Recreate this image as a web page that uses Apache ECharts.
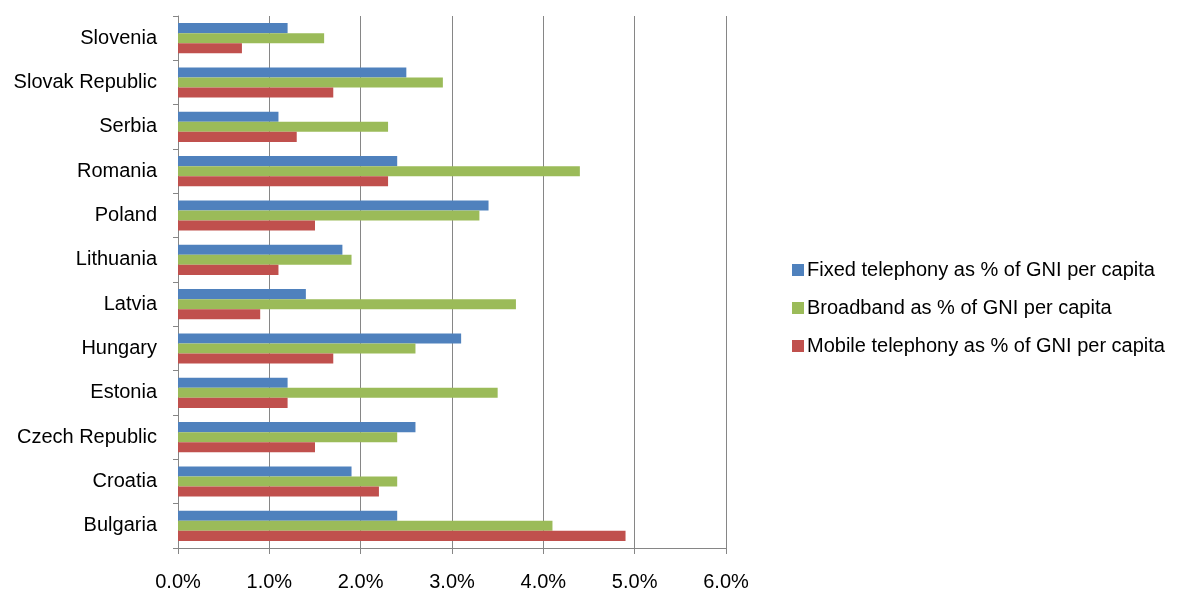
<!DOCTYPE html>
<html>
<head>
<meta charset="utf-8">
<script src="https://cdn.jsdelivr.net/npm/echarts@6/dist/echarts.min.js"></script>
<style>
  html, body { margin: 0; padding: 0; background: #ffffff; }
  #chart { width: 1179px; height: 592px; }
</style>
</head>
<body>
<div id="chart"></div>
<script>
// Countries, listed from the bottom of the axis to the top
const countries = ['Bulgaria', 'Croatia', 'Czech Republic', 'Estonia', 'Hungary', 'Latvia',
  'Lithuania', 'Poland', 'Romania', 'Serbia', 'Slovak Republic', 'Slovenia'];

// Cost of each service as % of GNI per capita
const fixedTelephony = [2.4, 1.9, 2.6, 1.2, 3.1, 1.4, 1.8, 3.4, 2.4, 1.1, 2.5, 1.2];
const broadband      = [4.1, 2.4, 2.4, 3.5, 2.6, 3.7, 1.9, 3.3, 4.4, 2.3, 2.9, 1.6];
const mobileTelephony = [4.9, 2.2, 1.5, 1.2, 1.7, 0.9, 1.1, 1.5, 2.3, 1.3, 1.7, 0.7];

const seriesNames = [
  'Fixed telephony as % of GNI per capita',
  'Broadband as % of GNI per capita',
  'Mobile telephony as % of GNI per capita'
];

const FONT = 'Liberation Sans, Arial, sans-serif';
const GRID_GRAY = '#868686';

const chart = echarts.init(document.getElementById('chart'), null, { renderer: 'canvas' });

chart.setOption({
  animation: false,
  backgroundColor: '#ffffff',
  grid: { left: 178, right: 453, top: 16, bottom: 44, containLabel: false },
  legend: {
    orient: 'vertical',
    left: 787,
    top: 255,
    itemWidth: 12,
    itemHeight: 12,
    itemGap: 18,
    icon: 'rect',
    data: seriesNames,
    textStyle: { fontFamily: FONT, fontSize: 20, color: '#000000', padding: [0, 0, 0, -2] }
  },
  xAxis: {
    type: 'value',
    min: 0,
    max: 6,
    interval: 1,
    axisLine: { show: true, lineStyle: { color: GRID_GRAY, width: 1 } },
    axisTick: { show: true, length: 6, lineStyle: { color: GRID_GRAY } },
    splitLine: { show: true, lineStyle: { color: GRID_GRAY, width: 1 } },
    axisLabel: {
      margin: 24,
      fontFamily: FONT,
      fontSize: 20,
      color: '#000000',
      formatter: v => v.toFixed(1) + '%'
    }
  },
  yAxis: {
    type: 'category',
    data: countries,
    axisLine: { show: true, lineStyle: { color: GRID_GRAY, width: 1 } },
    axisTick: { show: true, length: 5, lineStyle: { color: GRID_GRAY } },
    axisLabel: { margin: 21, fontFamily: FONT, fontSize: 20, color: '#000000' }
  },
  series: [
    { name: seriesNames[0], type: 'bar', data: fixedTelephony, itemStyle: { color: '#4F81BD' },
      barGap: '0%', barCategoryGap: '32%' },
    { name: seriesNames[1], type: 'bar', data: broadband, itemStyle: { color: '#9BBB59' },
      barGap: '0%', barCategoryGap: '32%' },
    { name: seriesNames[2], type: 'bar', data: mobileTelephony, itemStyle: { color: '#C0504D' },
      barGap: '0%', barCategoryGap: '32%' }
  ]
});
</script>
</body>
</html>
